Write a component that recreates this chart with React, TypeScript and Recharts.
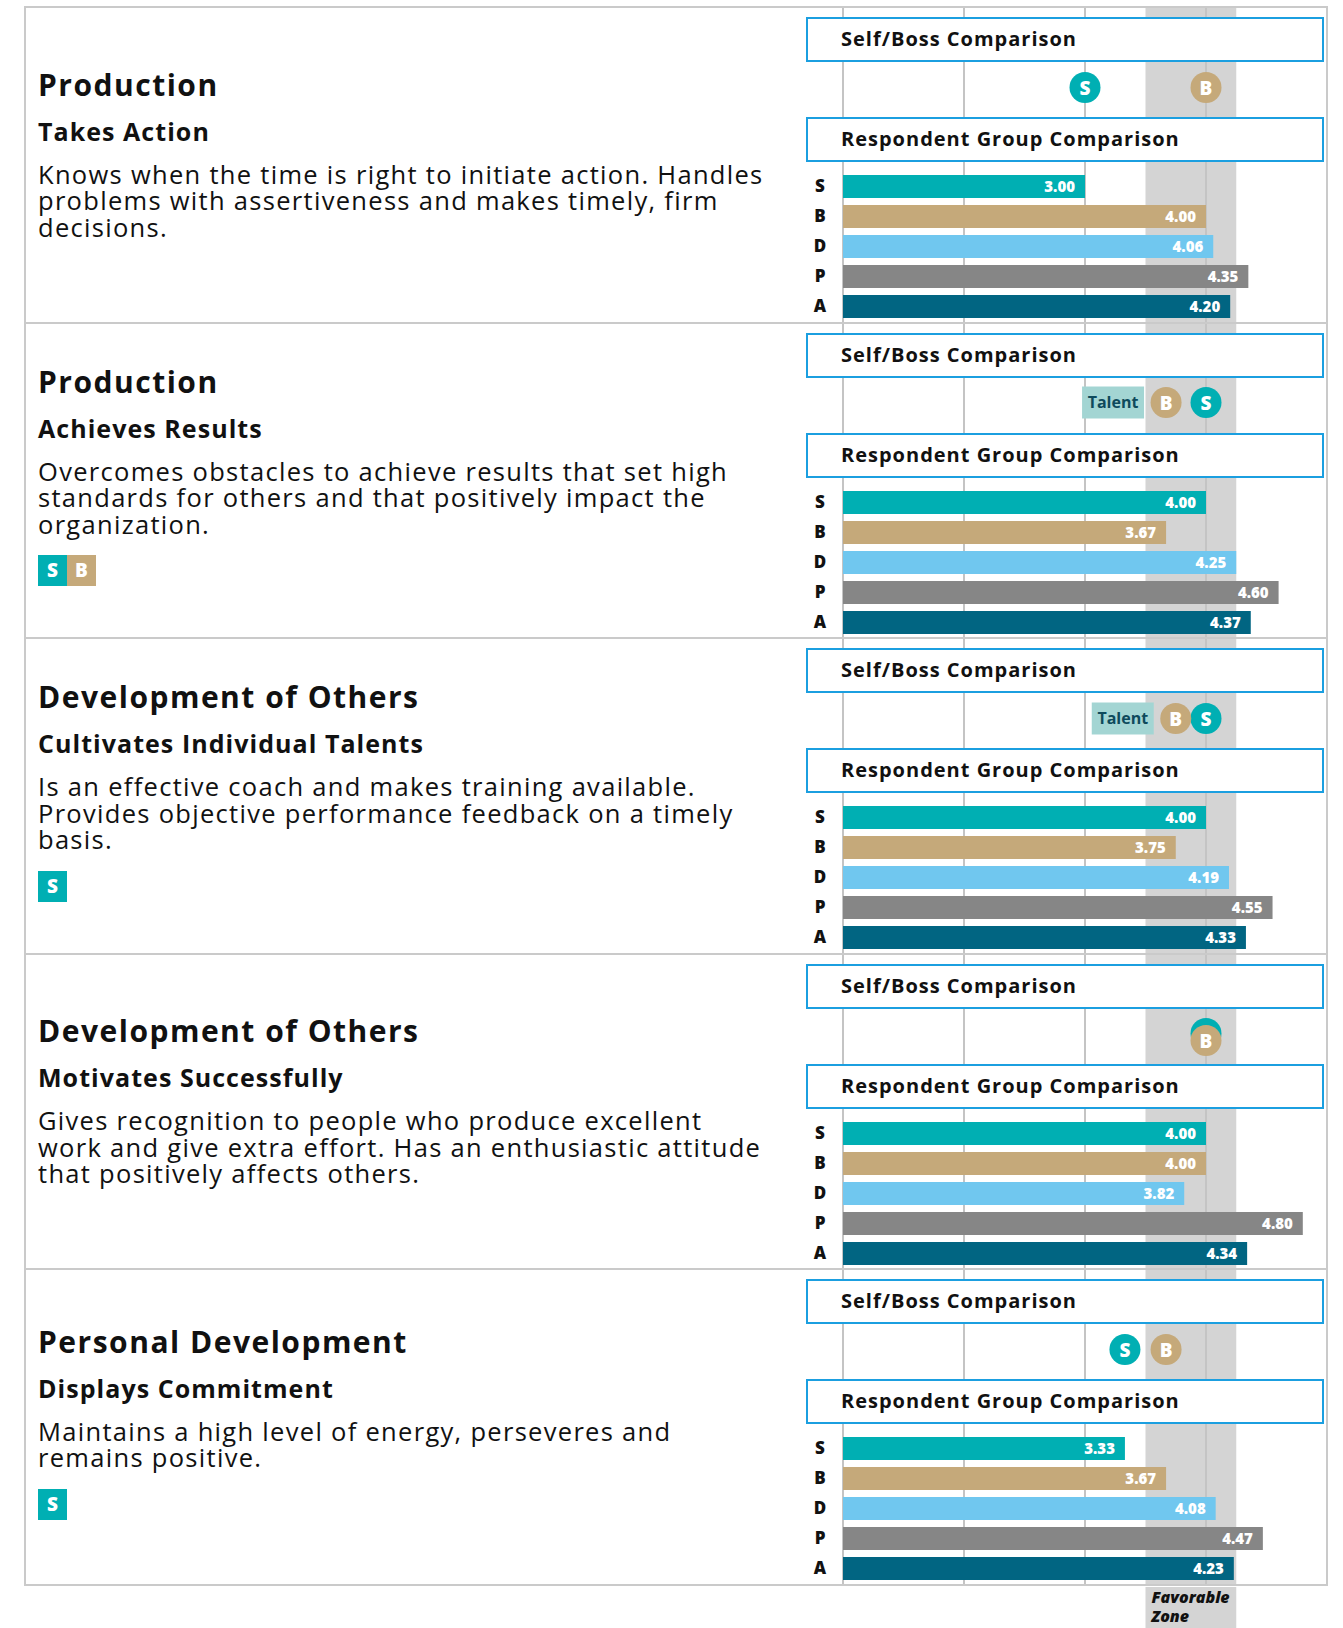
import React from "react";
import {
  BarChart,
  Bar,
  XAxis,
  YAxis,
  Cell,
  LabelList,
  ScatterChart,
  Scatter,
  ReferenceArea,
  ReferenceLine,
  Label,
} from "recharts";

// respondent groups, top to bottom
const groups = ["S", "B", "D", "P", "A"];
const groupColors = ["#00AFB3", "#C5A97A", "#70C7EF", "#868686", "#016582"];

const competencies = [
  "Production",
  "Production",
  "Development of Others",
  "Development of Others",
  "Personal Development",
];
const behaviors = [
  "Takes Action",
  "Achieves Results",
  "Cultivates Individual Talents",
  "Motivates Successfully",
  "Displays Commitment",
];
const descriptions = [
  [
    "Knows when the time is right to initiate action. Handles",
    "problems with assertiveness and makes timely, firm",
    "decisions.",
  ],
  [
    "Overcomes obstacles to achieve results that set high",
    "standards for others and that positively impact the",
    "organization.",
  ],
  [
    "Is an effective coach and makes training available.",
    "Provides objective performance feedback on a timely",
    "basis.",
  ],
  [
    "Gives recognition to people who produce excellent",
    "work and give extra effort. Has an enthusiastic attitude",
    "that positively affects others.",
  ],
  ["Maintains a high level of energy, perseveres and", "remains positive."],
];
const badges = [[], ["S", "B"], ["S"], [], ["S"]];
const talentFlags = [false, true, true, false, false];

// scores per group, one entry per competency panel
const selfScores = [3.0, 4.0, 4.0, 4.0, 3.33];
const bossScores = [4.0, 3.67, 3.75, 4.0, 3.67];
const directScores = [4.06, 4.25, 4.19, 3.82, 4.08];
const peerScores = [4.35, 4.6, 4.55, 4.8, 4.47];
const allScores = [4.2, 4.37, 4.33, 4.34, 4.23];

const scaleTicks = [1, 2, 3, 4, 5];
const favorableZone = [3.5, 4.25];

const PANEL_TOP = 7;
const PANEL_H = 315.6;
const CHART_LEFT = 780;
const CHART_W = 547;
const AXIS_W = 63;
const FONT = "'Open Sans', 'Noto Sans', sans-serif";

const frameColor = "#CACACA";
const boxBlue = "#1B9FE0";

// keeps the hidden scale charts alive without drawing anything
const scaleAnchors = [
  { x: 1, y: 0 },
  { x: 5, y: 1 },
];
const NoShape = () => <g />;

function SelfBossDot(props: any) {
  const { cx, cy, payload } = props;
  const y = cy + (payload.shift || 0);
  return (
    <g>
      {payload.talent && (
        <g>
          <rect x={cx - 84} y={cy - 16} width={62} height={32} fill="#A3D5D3" />
          <text
            x={cx - 53}
            y={cy}
            dy={5.5}
            textAnchor="middle"
            fontFamily={FONT}
            fontWeight={700}
            fontSize={16}
            fill="#0E4A5C"
          >
            Talent
          </text>
        </g>
      )}
      <circle cx={cx} cy={y} r={15.5} fill={payload.color} />
      <text
        x={cx}
        y={y}
        dy={7}
        textAnchor="middle"
        fontFamily={FONT}
        fontWeight={800}
        fontSize={19}
        fill="#fff"
      >
        {payload.who}
      </text>
    </g>
  );
}

function GroupTick(props: any) {
  const { x, y, payload } = props;
  return (
    <text
      x={x - 23}
      y={y}
      dy={6}
      textAnchor="middle"
      fontFamily={FONT}
      fontWeight={800}
      fontSize={17}
      fill="#111"
    >
      {payload.value}
    </text>
  );
}

function ZoneLabel(props: any) {
  const { x, y } = props.viewBox;
  const style = { fontFamily: FONT, fontWeight: 800, fontStyle: "italic", fontSize: 16, fill: "#111" };
  return (
    <g>
      <text x={x + 6} y={y + 16} style={style}>Favorable</text>
      <text x={x + 6} y={y + 35} style={style}>Zone</text>
    </g>
  );
}

function HeaderBox({ top, text }: { top: number; text: string }) {
  return (
    <div
      style={{
        position: "absolute",
        left: 806,
        top,
        width: 518,
        height: 45,
        boxSizing: "border-box",
        border: `2px solid ${boxBlue}`,
        background: "#fff",
        paddingLeft: 33,
        fontFamily: FONT,
        fontWeight: 700,
        fontSize: 20,
        letterSpacing: 1,
        lineHeight: "40px",
        color: "#111",
      }}
    >
      {text}
    </div>
  );
}

function Panel({ i }: { i: number }) {
  const top = PANEL_TOP + i * PANEL_H;
  const barData = groups.map((g, k) => ({
    group: g,
    value: [selfScores[i], bossScores[i], directScores[i], peerScores[i], allScores[i]][k],
  }));
  const same = Math.abs(selfScores[i] - bossScores[i]) < 0.05;
  const leftIsBoss = bossScores[i] <= selfScores[i];
  const selfPoint = [
    { x: selfScores[i], y: 0.5, who: "S", color: groupColors[0], talent: talentFlags[i] && !leftIsBoss },
  ];
  const bossPoint = [
    {
      x: bossScores[i],
      y: 0.5,
      who: "B",
      color: groupColors[1],
      shift: same ? 7 : 0,
      talent: talentFlags[i] && leftIsBoss,
    },
  ];

  return (
    <>
      {/* left description */}
      <div
        style={{
          position: "absolute",
          left: 38,
          top,
          width: 740,
          height: PANEL_H,
          boxSizing: "border-box",
          paddingBottom: badges[i].length > 0 ? 8 : 20,
          display: "flex",
          flexDirection: "column",
          justifyContent: "center",
          fontFamily: FONT,
          color: "#111",
        }}
      >
        <div style={{ fontSize: 30, fontWeight: 700, lineHeight: "30px", letterSpacing: 1.5, marginBottom: 16 }}>
          {competencies[i]}
        </div>
        <div style={{ fontSize: 25, fontWeight: 700, lineHeight: "30px", letterSpacing: 1.05, marginBottom: 15 }}>
          {behaviors[i]}
        </div>
        {descriptions[i].map((line) => (
          <div key={line} style={{ fontSize: 25.5, lineHeight: "26.5px", letterSpacing: 1.3, whiteSpace: "nowrap" }}>
            {line}
          </div>
        ))}
        {badges[i].length > 0 && (
          <div style={{ display: "flex", marginTop: 18 }}>
            {badges[i].map((b) => (
              <div
                key={b}
                style={{
                  width: 29,
                  height: 31,
                  background: groupColors[groups.indexOf(b)],
                  color: "#fff",
                  fontWeight: 800,
                  fontSize: 19,
                  lineHeight: "31px",
                  textAlign: "center",
                }}
              >
                {b}
              </div>
            ))}
          </div>
        )}
      </div>

      <HeaderBox top={top + 10} text="Self/Boss Comparison" />

      <div style={{ position: "absolute", left: CHART_LEFT, top: top + 57.5 }}>
        <ScatterChart width={CHART_W} height={45} margin={{ top: 0, right: 0, bottom: 0, left: AXIS_W }}>
          <XAxis type="number" dataKey="x" domain={[1, 5]} hide allowDataOverflow />
          <YAxis type="number" dataKey="y" domain={[0, 1]} hide />
          <Scatter data={selfPoint} shape={SelfBossDot} isAnimationActive={false} />
          <Scatter data={bossPoint} shape={SelfBossDot} isAnimationActive={false} />
        </ScatterChart>
      </div>

      <HeaderBox top={top + 110} text="Respondent Group Comparison" />

      <div style={{ position: "absolute", left: CHART_LEFT, top: top + 164 }}>
        <BarChart
          width={CHART_W}
          height={150}
          data={barData}
          layout="vertical"
          margin={{ top: 0, right: 0, bottom: 0, left: 0 }}
          barSize={23}
        >
          <XAxis type="number" domain={[1, 5]} hide allowDataOverflow />
          <YAxis
            type="category"
            dataKey="group"
            width={AXIS_W}
            axisLine={false}
            tickLine={false}
            tickSize={0}
            tickMargin={0}
            tick={GroupTick}
          />
          <Bar dataKey="value" isAnimationActive={false}>
            {barData.map((d, k) => (
              <Cell key={d.group} fill={groupColors[k]} />
            ))}
            <LabelList
              dataKey="value"
              position="insideRight"
              offset={10}
              fill="#fff"
              fontFamily={FONT}
              fontWeight={800}
              fontSize={15}
              formatter={(v: any) => Number(v).toFixed(2)}
            />
          </Bar>
        </BarChart>
      </div>
    </>
  );
}

export default function App() {
  const panelIdx = competencies.map((_, i) => i);
  const bottom = PANEL_TOP + 5 * PANEL_H;
  return (
    <div style={{ position: "absolute", left: 0, top: 0, width: 1343, height: 1628, background: "#fff", fontFamily: FONT }}>
      {/* favorable zone and scale gridlines behind everything */}
      <div style={{ position: "absolute", left: CHART_LEFT, top: PANEL_TOP + 1 }}>
        <ScatterChart
          width={CHART_W}
          height={bottom - PANEL_TOP - 1}
          margin={{ top: 0, right: 0, bottom: 0, left: AXIS_W }}
        >
          <XAxis type="number" dataKey="x" domain={[1, 5]} hide allowDataOverflow />
          <YAxis type="number" dataKey="y" domain={[0, 1]} hide allowDataOverflow />
          <ReferenceArea
            x1={favorableZone[0]}
            x2={favorableZone[1]}
            y1={0}
            y2={1}
            fill="#D4D4D4"
            fillOpacity={1}
            stroke="none"
          />
          {scaleTicks.map((t) => (
            <ReferenceLine key={t} x={t} stroke="#C4C4C4" strokeWidth={2} />
          ))}
          <Scatter data={scaleAnchors} shape={NoShape} isAnimationActive={false} />
        </ScatterChart>
      </div>

      <div style={{ position: "absolute", left: CHART_LEFT, top: bottom + 2 }}>
        <ScatterChart
          width={CHART_W}
          height={1628 - bottom - 2}
          margin={{ top: 0, right: 0, bottom: 0, left: AXIS_W }}
        >
          <XAxis type="number" dataKey="x" domain={[1, 5]} hide allowDataOverflow />
          <YAxis type="number" dataKey="y" domain={[0, 1]} hide allowDataOverflow />
          <ReferenceArea
            x1={favorableZone[0]}
            x2={favorableZone[1]}
            y1={0}
            y2={1}
            fill="#D4D4D4"
            fillOpacity={1}
            stroke="none"
          >
            <Label content={ZoneLabel} />
          </ReferenceArea>
          <Scatter data={scaleAnchors} shape={NoShape} isAnimationActive={false} />
        </ScatterChart>
      </div>

      {panelIdx.map((i) => (
        <Panel key={i} i={i} />
      ))}

      {/* outer frame and panel separators */}
      <div
        style={{
          position: "absolute",
          left: 24,
          top: PANEL_TOP - 1,
          width: 1304,
          height: bottom - PANEL_TOP + 2,
          boxSizing: "border-box",
          border: `2px solid ${frameColor}`,
          pointerEvents: "none",
        }}
      />
      {panelIdx.slice(1).map((i) => (
        <div
          key={i}
          style={{
            position: "absolute",
            left: 25,
            top: PANEL_TOP + i * PANEL_H - 1,
            width: 1302,
            height: 2,
            background: frameColor,
          }}
        />
      ))}
    </div>
  );
}
